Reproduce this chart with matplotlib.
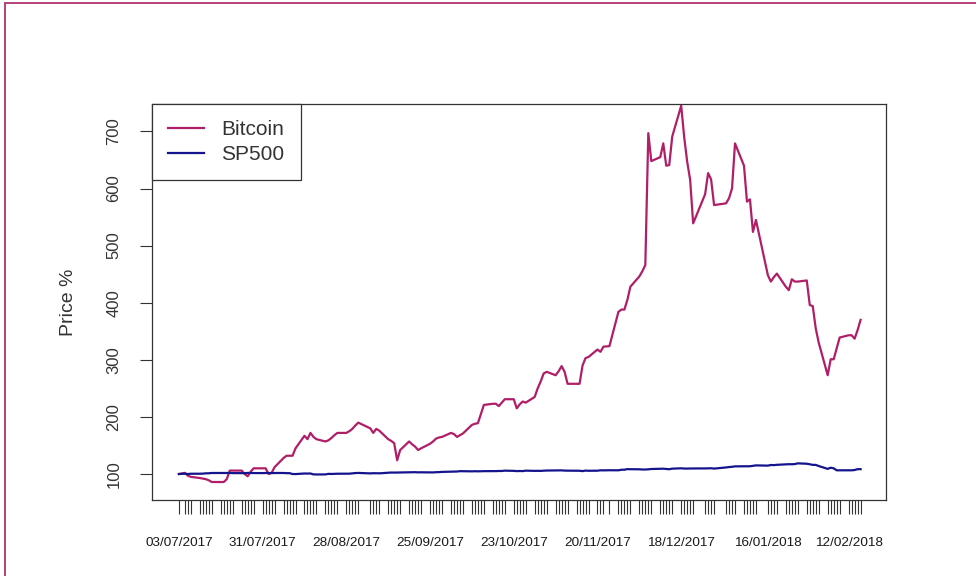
import numpy as np
import pandas as pd
import matplotlib
matplotlib.use('Agg')
import matplotlib.pyplot as plt
import matplotlib.dates as mdates
from matplotlib.lines import Line2D

plt.rcParams['font.family'] = ['Liberation Sans', 'DejaVu Sans']

# market holidays skipped in the series (no row on those days)
holidays = ["2017-07-04", "2017-09-04", "2017-11-23", "2017-12-25",
            "2018-01-01", "2018-01-15"]

# price index, 03/07/2017 = 100, one value per trading day
bitcoin = [
    # Jul
    100, 102, 97, 95, 93, 92, 91, 89, 86, 86, 86, 91, 106, 106, 106, 100, 96, 104, 110, 110,
    # Aug
    110, 100, 102, 112, 128, 132, 132, 132, 145, 167, 161, 172, 165, 161, 157, 159, 163, 168,
    172, 172, 175, 179, 185,
    # Sep
    190, 180, 172, 179, 176, 161, 158, 154, 124, 142, 157, 152, 148, 142, 145, 153, 157, 162,
    164, 165,
    # Oct
    172, 170, 165, 168, 171, 186, 188, 189, 205, 221, 223, 223, 219, 225, 231, 231, 215, 222,
    227, 225, 235, 250,
    # Nov
    262, 276, 279, 273, 280, 289, 279, 258, 258, 258, 290, 303, 305, 318, 314, 323, 324, 384,
    388, 388, 405,
    # Dec
    428, 446, 455, 466, 697, 648, 655, 679, 640, 641, 691, 745, 690, 647, 615, 539, 590, 627,
    616, 571,
    # Jan
    574, 583, 600, 679, 640, 577, 581, 524, 545, 448, 437, 445, 451, 428, 422, 441, 437, 437,
    439, 396, 394,
    # Feb
    355, 330, 273, 301, 301, 320, 339, 343, 343, 337, 352, 370,
]

sp500 = [
    # Jul
    100, 100.5, 100, 100.5, 100.5, 100.7, 101.2, 101.3, 101.8, 101.8, 101.7, 101.8, 101.8,
    101.6, 101.5, 101.5, 101.9, 101.8, 101.7, 101.6,
    # Aug
    101.8, 101.8, 101.6, 101.8, 101.8, 101.5, 101.5, 100, 99.9, 100.9, 100.8, 100.9, 99.4,
    99.2, 99.3, 100.3, 100.1, 100.3, 100.5, 100.5, 100.6, 101.1, 101.7,
    # Sep
    101.9, 101.1, 101.4, 101.4, 101.2, 102.3, 102.6, 102.5, 102.6, 102.8, 103, 103.1, 103.2,
    102.9, 103, 102.8, 102.8, 103.2, 103.3, 103.7,
    # Oct
    104.1, 104.3, 104.4, 105, 104.9, 104.7, 104.9, 104.7, 104.9, 105, 105, 105.1, 105.3,
    105.3, 105.9, 105.5, 105.1, 105.3, 105.1, 105.9, 105.5, 105.6,
    # Nov
    105.5, 105.8, 106.1, 106.3, 106.4, 106.4, 106, 105.9, 105.8, 105.7, 105.1, 106, 105.7,
    105.8, 106.5, 106.4, 106.6, 106.5, 107.5, 107.5, 108.6,
    # Dec
    108.4, 108.3, 107.9, 107.9, 108.2, 108.8, 109.1, 109.3, 108.8, 108.4, 109.4, 110, 109.6,
    109.5, 109.7, 109.7, 109.8, 109.9, 110.1, 109.5,
    # Jan
    111.5, 112.2, 112.6, 113.4, 113.6, 113.8, 113.6, 114.4, 115.1, 114.7, 115.8, 115.6,
    116.1, 117, 117.2, 117.1, 117.4, 118.7, 118, 117.1, 116,
    # Feb
    116, 114, 109, 111, 110, 106.5, 106.5, 106.5, 106.5, 107, 108.5, 108.5,
]

label_dates = ["03/07/2017", "31/07/2017", "28/08/2017", "25/09/2017", "23/10/2017",
               "20/11/2017", "18/12/2017", "16/01/2018", "12/02/2018"]

days = pd.bdate_range("2017-07-03", "2018-02-16")
days = days[~days.isin(pd.to_datetime(holidays))]
assert len(days) == len(bitcoin) == len(sp500)

fig = plt.figure(figsize=(9.76, 5.76), dpi=100)
ax = fig.add_axes([152 / 976, 1 - 500 / 576, 734 / 976, 396 / 576])

ax.plot(days, bitcoin, color='#B01E68', lw=1.6, label='Bitcoin')
ax.plot(days, sp500, color='#14148C', lw=1.6, label='SP500')

x0 = days[0]
ax.set_xlim(x0 - pd.Timedelta(days=9), x0 + pd.Timedelta(days=236.5))
ax.set_ylim(54.5, 748)

# every trading day gets a tick, only some get a label
lab_pos = pd.to_datetime(label_dates, dayfirst=True)
ax.set_xticks(lab_pos)
ax.set_xticklabels(label_dates, fontsize=9.7)
ax.set_xticks(days, minor=True)
ax.tick_params(axis='x', which='both', length=10, width=0.8, color='#333333', pad=17)
ax.set_yticks([100, 200, 300, 400, 500, 600, 700])
ax.tick_params(axis='y', length=9, width=0.8, color='#333333', labelsize=12, pad=13)
for t in ax.get_yticklabels():
    t.set_rotation(90)
    t.set_va('center')
    t.set_color('#333333')
for t in ax.get_xticklabels():
    t.set_color('#1a1a1a')

for s in ax.spines.values():
    s.set_color('#333333')
    s.set_linewidth(0.9)

ax.set_ylabel('Price %', fontsize=14, color='#333333')
ax.yaxis.set_label_coords(-0.102, 0.5)

leg = ax.legend(loc='upper left', borderaxespad=0, fontsize=15, fancybox=False,
                handlelength=1.7, handletextpad=0.85, borderpad=0.78, labelspacing=0.28,
                framealpha=1)
leg.get_frame().set_edgecolor('#333333')
leg.get_frame().set_linewidth(0.9)
for t in leg.get_texts():
    t.set_color('#333333')

# page frame visible on the top and left edges
fig.add_artist(Line2D([5 / 976, 1], [1 - 3 / 576, 1 - 3 / 576], color='#B5417A', lw=1.4))
fig.add_artist(Line2D([5 / 976, 5 / 976], [0, 1 - 3 / 576], color='#B5417A', lw=1.4))

fig.savefig('out.png', dpi=100)
